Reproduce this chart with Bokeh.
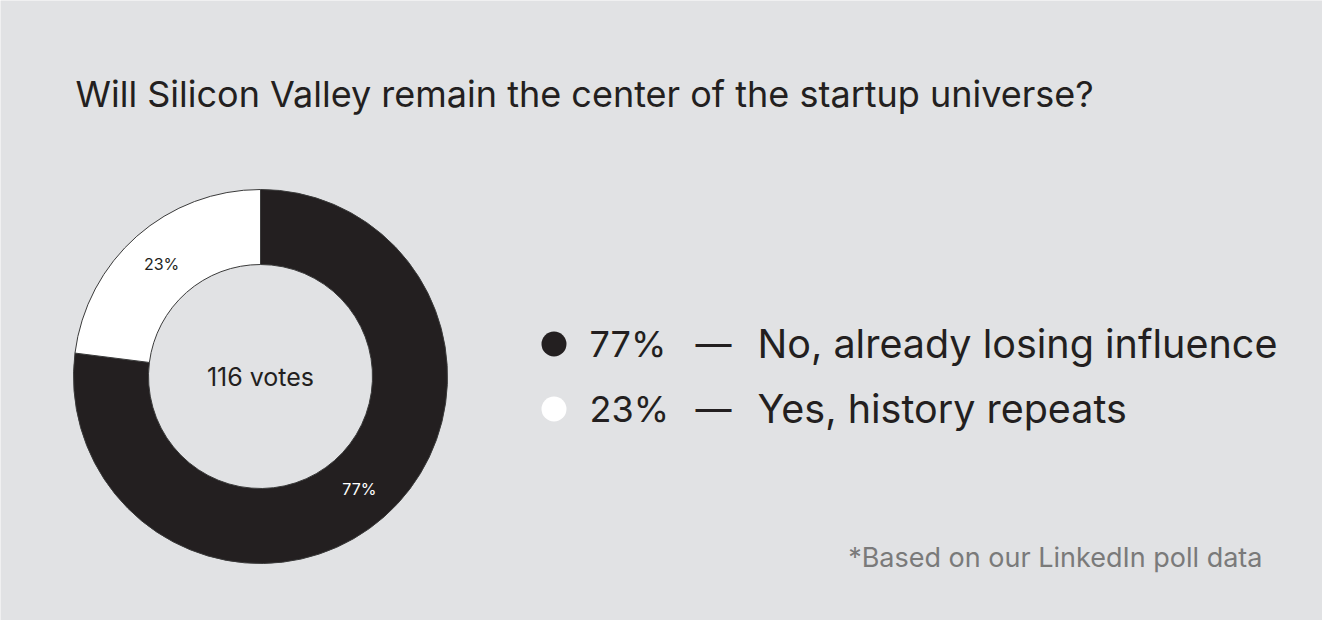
import numpy as np
from bokeh.plotting import figure
from bokeh.models import ColumnDataSource, Range1d
from bokeh.core.properties import value
from bokeh.embed import file_html
from bokeh.resources import INLINE

# ---- data ----
categories = ["No, already losing influence", "Yes, history repeats"]
shares = [77, 23]
colors = ["#231f20", "#ffffff"]
total_votes = 116
title_text = "Will Silicon Valley remain the center of the startup universe?"
footnote = "*Based on our LinkedIn poll data"

FONT = "Inter"
W, H = 1322, 620
BG = "#e1e2e4"

p = figure(width=W, height=H, output_backend="svg", toolbar_location=None,
           x_range=Range1d(0, W), y_range=Range1d(0, H), min_border=0,
           background_fill_color=BG, border_fill_color=BG, outline_line_color=None)
p.axis.visible = False
p.grid.visible = False

# donut
cx, cy = 260, H - 376
r_in, r_out = 112, 187
fr = np.array(shares) / sum(shares)
# dark slice clockwise from top; white fills the rest
ends = np.pi / 2 - np.concatenate([[0], np.cumsum(fr)[:-1]]) * 2 * np.pi
starts = ends - fr * 2 * np.pi
src = ColumnDataSource(dict(start=starts, end=ends, color=colors,
                            share=shares, cat=categories))
p.annular_wedge(x=cx, y=cy, inner_radius=r_in, outer_radius=r_out,
                start_angle="start", end_angle="end", fill_color="color",
                line_color="#3a3a3a", line_width=1, source=src)

mid = (starts + ends) / 2
rm = (r_in + r_out) / 2
lab = ColumnDataSource(dict(x=cx + rm * np.cos(mid), y=cy + rm * np.sin(mid),
                            t=[f"{s}%" for s in shares],
                            c=["#ffffff", "#231f20"]))
p.text(x="x", y="y", text="t", text_color="c", source=lab,
       text_font=value(FONT), text_font_size="16px",
       text_align="center", text_baseline="middle")

p.text(x=[cx], y=[cy], text=[f"{total_votes} votes"], text_color="#231f20",
       text_font=value(FONT), text_font_size="25px",
       text_align="center", text_baseline="middle")

# title
p.text(x=[75], y=[H - 93.5], text=[title_text], text_color="#231f20",
       text_font=value(FONT), text_font_size="36px",
       text_align="left", text_baseline="middle")

# legend
ly = [H - 343.5, H - 408.5]
leg = ColumnDataSource(dict(y=ly, color=colors,
                            pct=[f"{s}%" for s in shares],
                            dash=["—"] * len(shares), cat=categories))
p.scatter(x=553.5, y="y", size=25, fill_color="color", line_color=None, source=leg)
for xx, col, fs in [(589, "pct", "36px"), (695, "dash", "36px"), (757, "cat", "39.5px")]:
    p.text(x=xx, y="y", text=col, source=leg, text_color="#231f20",
           text_font=value(FONT), text_font_size=fs,
           text_align="left", text_baseline="middle")

# footnote
p.text(x=[1262], y=[H - 556.5], text=[footnote], text_color="#7a7a7a",
       text_font=value(FONT), text_font_size="27px",
       text_align="right", text_baseline="middle")

open("out.html", "w").write(file_html(p, INLINE))
